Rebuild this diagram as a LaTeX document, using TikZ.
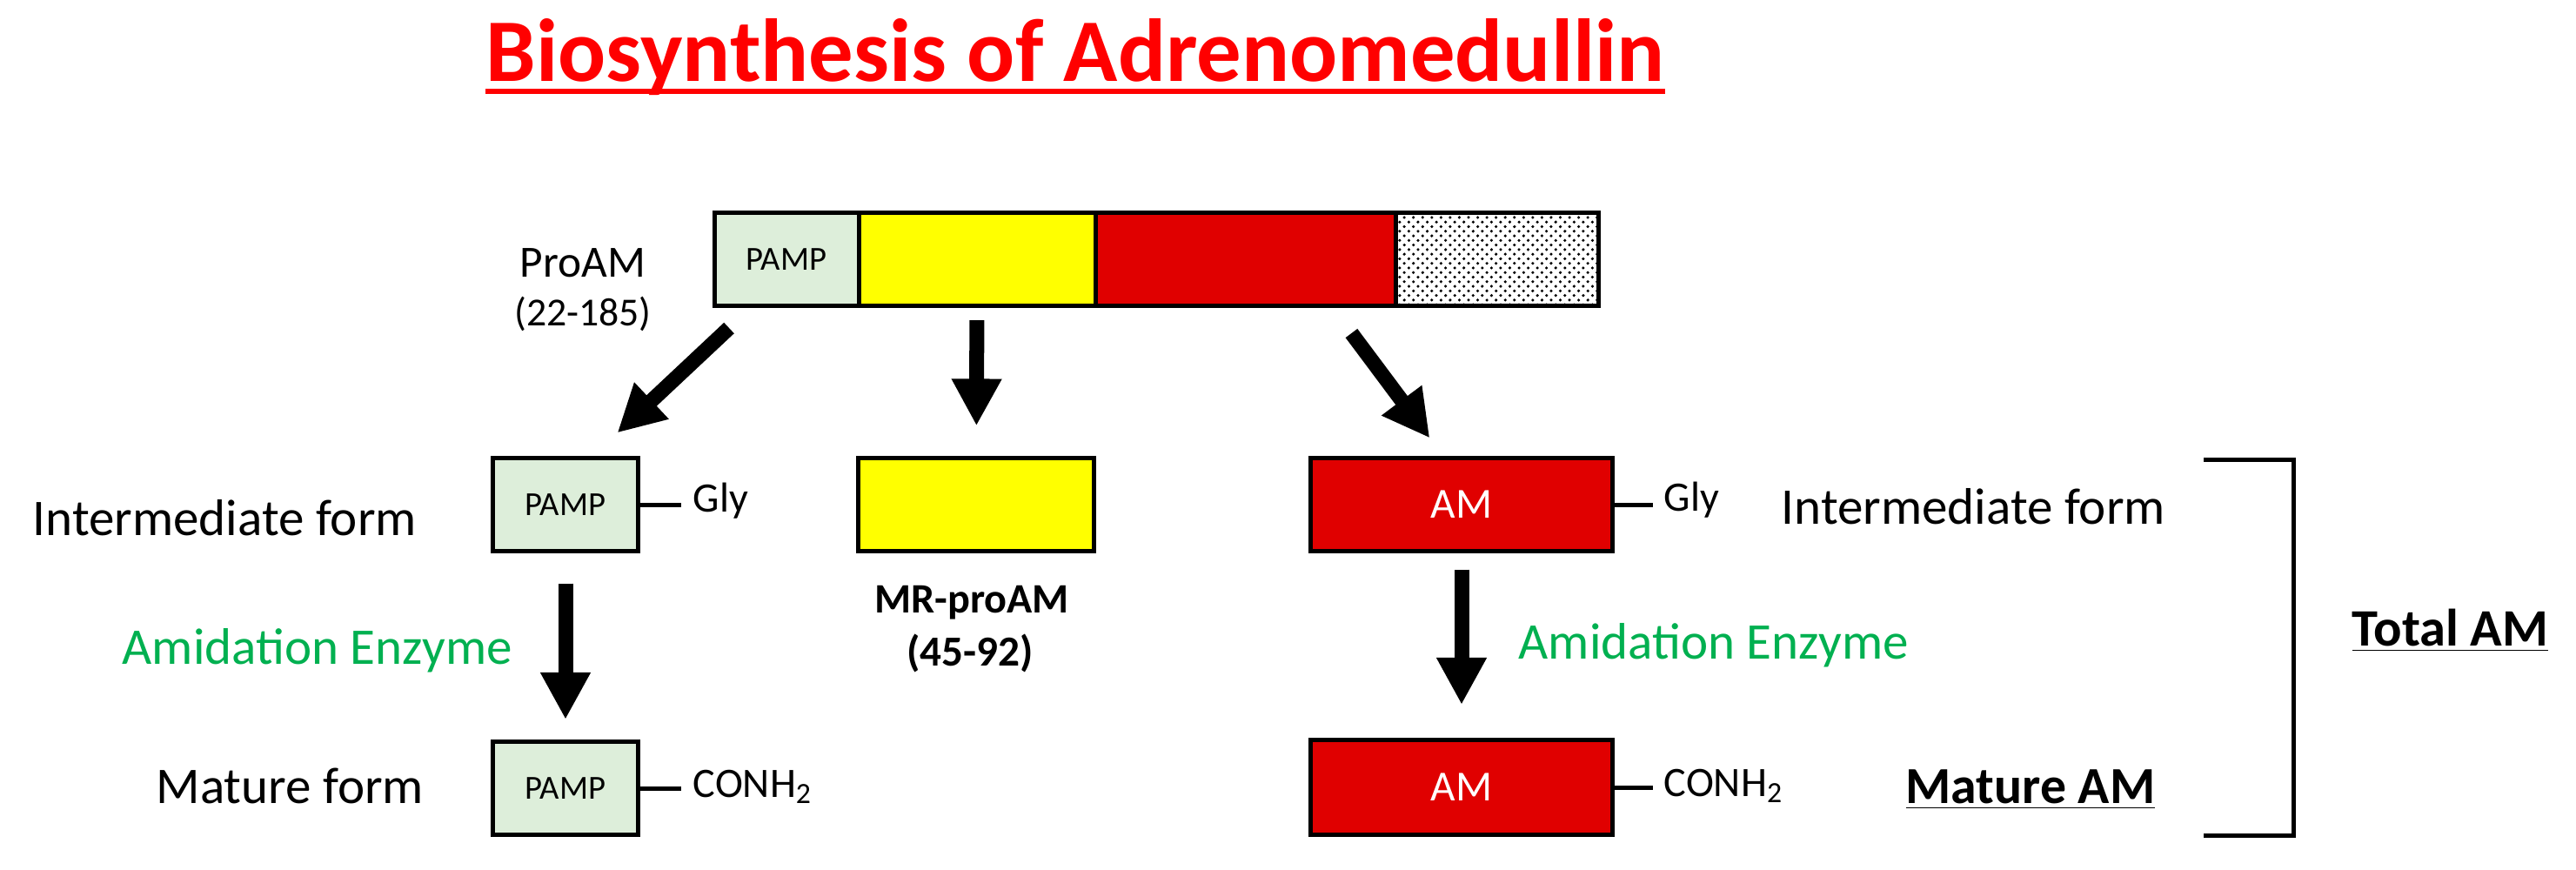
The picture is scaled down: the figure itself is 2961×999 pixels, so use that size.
\documentclass[tikz,border=0pt]{standalone}
\usepackage{fontspec}
\setmainfont{Carlito}
\usetikzlibrary{arrows.meta,patterns,calc,positioning}
\definecolor{pampgreen}{RGB}{221,238,218}
\definecolor{amred}{RGB}{224,0,0}
\definecolor{mryellow}{RGB}{255,255,0}
\definecolor{titlered}{RGB}{255,0,0}
\definecolor{enzgreen}{RGB}{0,176,80}
\tikzset{
  seg/.style={draw=black, line width=0.05cm, inner sep=0pt, outer sep=0pt, minimum height=1.06cm, anchor=west},
  pepbox/.style={draw=black, line width=0.05cm, inner sep=0pt, minimum height=1.06cm},
  bigarrow/.style={line width=0.17cm, -{Triangle[length=0.54cm,width=0.54cm]}},
  bond/.style={line width=0.05cm},
  lbl/.style={font=\fontsize{16.8}{19}\selectfont, inner sep=0pt, anchor=base west},
  enzlbl/.style={lbl, text=enzgreen},
  grp/.style={font=\fontsize{13.7}{16}\selectfont, inner sep=0pt, anchor=base west},
  sumlbl/.style={font=\bfseries\fontsize{17.2}{19}\selectfont, inner sep=0pt, anchor=base west},
}
\begin{document}
\begin{tikzpicture}[x=0.01cm,y=-0.01cm]
  \useasboundingbox (0,0) rectangle (2961,999);
  % title
  \node[font=\bfseries\fontsize{29.2}{32}\selectfont, text=titlered, inner sep=0pt, anchor=base west] (title) at (558,93) {Biosynthesis of Adrenomedullin};
  \draw[titlered, line width=0.06cm] ($(title.base west)+(0,12)$) -- ($(title.base east)+(0,12)$);
  % precursor bar
  \node[seg, fill=pampgreen, minimum width=1.66cm, font=\fontsize{11}{13}\selectfont] (pampseg) at (821,298) {PAMP};
  \node[seg, fill=mryellow, minimum width=2.72cm] (mrseg) at (pampseg.east) {};
  \node[seg, fill=amred, minimum width=3.45cm] (amseg) at (mrseg.east) {};
  \node[seg, pattern=crosshatch dots, pattern color=black, minimum width=2.33cm] (tailseg) at (amseg.east) {};
  \node[font=\fontsize{14.6}{17}\selectfont, inner sep=0pt, anchor=base] (proam) at (670,318) {ProAM};
  \node[font=\fontsize{13}{15}\selectfont, inner sep=0pt, anchor=base] (proamnum) at (670,374) {(22-185)};
  % intermediate row
  \node[pepbox, fill=pampgreen, minimum width=1.66cm, font=\fontsize{11}{13}\selectfont] (pampint) at (650,580) {PAMP};
  \node[pepbox, fill=mryellow, minimum width=2.71cm] (mrbox) at (1122,580) {};
  \node[pepbox, fill=amred, minimum width=3.46cm, text=white, font=\fontsize{14}{16}\selectfont] (amint) at (1680,580) {AM};
  \node[grp] (glyl) at (796,588) {Gly};
  \node[grp] (glyr) at (1912,587) {Gly};
  \draw[bond] (pampint.east) -- ($(pampint.east -| glyl.west)+(-13,0)$);
  \draw[bond] (amint.east) -- ($(amint.east -| glyr.west)+(-12,0)$);
  \node[lbl] (intl) at (37,615) {Intermediate form};
  \node[lbl] (intr) at (2047,602) {Intermediate form};
  \node[font=\bfseries\fontsize{13.7}{16}\selectfont, inner sep=0pt, anchor=base] (mrname) at (1117,704) {MR-proAM};
  \node[font=\bfseries\fontsize{14}{16}\selectfont, inner sep=0pt, anchor=base] (mrnum) at (1115,765) {(45-92)};
  % mature row
  \node[pepbox, fill=pampgreen, minimum width=1.66cm, minimum height=1.07cm, font=\fontsize{11}{13}\selectfont] (pampmat) at (650,906) {PAMP};
  \node[pepbox, fill=amred, minimum width=3.46cm, minimum height=1.09cm, text=white, font=\fontsize{14}{16}\selectfont] (ammat) at (1680,905) {AM};
  \node[grp] (conhl) at (796,916) {CONH\textsubscript{2}};
  \node[grp] (conhr) at (1912,915) {CONH\textsubscript{2}};
  \draw[bond] (pampmat.east) -- ($(pampmat.east -| conhl.west)+(-13,0)$);
  \draw[bond] (ammat.east) -- ($(ammat.east -| conhr.west)+(-12,0)$);
  \node[lbl] (matl) at (179,923) {Mature form};
  \node[enzlbl] (enzl) at (140,763) {Amidation Enzyme};
  \node[enzlbl] (enzr) at (1745,757) {Amidation Enzyme};
  % processing arrows
  \draw[bigarrow] ($(pampseg.south west)+(17,26)$) -- ($(pampint.north east)+(-26,-27)$);
  \draw[bigarrow, shorten <=0.17cm, shorten >=0.35cm] (mrseg) -- (mrbox);
  \draw[bigarrow] ($(amseg.south east)+(-51,32)$) -- ($(amint.north west)+(139,-21)$);
  \draw[bigarrow, shorten <=0.35cm, shorten >=0.23cm] (pampint) -- (pampmat);
  \draw[bigarrow, shorten <=0.19cm, shorten >=0.38cm] (amint) -- (ammat);
  % bracket
  \draw[line width=0.05cm] (2533,528) -- (2636,528) -- (2636,960) -- (2533,960);
  \node[sumlbl] (total) at (2703,742) {\underline{Total AM}};
  \node[sumlbl, font=\bfseries\fontsize{17}{19}\selectfont] (matam) at (2190,923) {\underline{Mature AM}};
\end{tikzpicture}
\end{document}
